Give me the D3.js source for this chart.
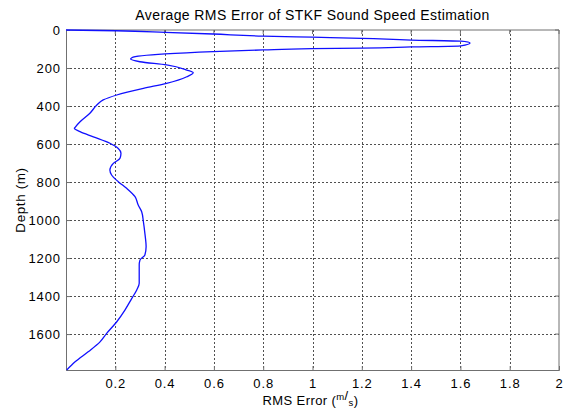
<!DOCTYPE html>
<html>
<head>
<meta charset="utf-8">
<script src="https://cdn.jsdelivr.net/npm/d3@7"></script>
<style>
  html, body { margin: 0; padding: 0; background: #fff; }
  svg { display: block; font-family: "Liberation Sans", Arial, sans-serif; }
</style>
</head>
<body>
<svg id="chart" width="575" height="414"></svg>
<script>
// Average RMS error profile vs. depth
const rmsError = [0, 0.203, 0.402, 0.596, 0.799, 0.998, 1.201, 1.400, 1.602, 1.639,
  1.602, 1.400, 1.201, 0.998, 0.799, 0.596, 0.402, 0.267, 0.262, 0.300,
  0.408, 0.490, 0.516, 0.490, 0.408, 0.314, 0.206, 0.151, 0.125, 0.097,
  0.057, 0.037, 0.034, 0.057, 0.111, 0.178, 0.212, 0.223, 0.219, 0.192,
  0.178, 0.185, 0.212, 0.246, 0.280, 0.293, 0.307, 0.314, 0.320, 0.325,
  0.320, 0.300, 0.297, 0.297, 0.287, 0.267, 0.239, 0.206, 0.165, 0.138,
  0.090, 0.037, 0.003];
const depth = [0, 4, 12, 21, 32, 38, 44, 53, 59, 68,
  83, 89, 95, 98, 105, 114, 126, 146, 153, 167,
  184, 211, 225, 246, 281, 307, 342, 368, 395, 438,
  483, 512, 517, 535, 562, 596, 623, 649, 675, 702,
  737, 763, 798, 833, 877, 921, 956, 1009, 1070, 1141,
  1184, 1211, 1237, 1333, 1368, 1412, 1474, 1535, 1596, 1641,
  1693, 1746, 1789];

const xTicks = [0.2, 0.4, 0.6, 0.8, 1, 1.2, 1.4, 1.6, 1.8, 2];
const yTicks = [0, 200, 400, 600, 800, 1000, 1200, 1400, 1600];
const xGrid = [0.2, 0.4, 0.6, 0.8, 1, 1.2, 1.4, 1.6, 1.8];
const yGrid = [200, 400, 600, 800, 1000, 1200, 1400, 1600];

const titleText = "Average RMS Error of STKF Sound Speed Estimation";
const yLabel = "Depth (m)";

const svg = d3.select("#chart");
const m = { left: 66, right: 16, top: 30, bottom: 44 };
const W = 575, H = 414;
const x = d3.scaleLinear().domain([0, 2]).range([m.left, W - m.right]);
const y = d3.scaleLinear().domain([0, 1789]).range([m.top, H - m.bottom]);

// grid
const grid = svg.append("g").attr("stroke", "#505050").attr("stroke-width", 1)
  .attr("stroke-dasharray", "1.5,2.5").attr("shape-rendering", "crispEdges");
grid.selectAll("line.v").data(xGrid).join("line").attr("class", "v")
  .attr("x1", d => Math.round(x(d)) + 0.5).attr("x2", d => Math.round(x(d)) + 0.5)
  .attr("y1", y(0)).attr("y2", y(1789));
grid.selectAll("line.h").data(yGrid).join("line").attr("class", "h")
  .attr("y1", d => Math.round(y(d)) + 0.5).attr("y2", d => Math.round(y(d)) + 0.5)
  .attr("x1", x(0)).attr("x2", x(2));

// axes
const axisColor = "#707070";
const xAxis = svg.append("g").attr("transform", `translate(0,${y(1789)})`)
  .call(d3.axisBottom(x).tickValues(xTicks).tickSize(-4).tickPadding(9).tickFormat(d3.format("")));
const yAxis = svg.append("g").attr("transform", `translate(${x(0)},0)`)
  .call(d3.axisLeft(y).tickValues(yTicks).tickSize(-4).tickPadding(5).tickFormat(d3.format("")));
[xAxis, yAxis].forEach(a => {
  a.select(".domain").attr("stroke", axisColor);
  a.selectAll(".tick line").attr("stroke", axisColor);
  a.selectAll("text").attr("fill", "#000").style("font-size", "13px")
    .style("letter-spacing", "0.9px");
});
// top and right frame
svg.append("line").attr("x1", x(0)).attr("x2", x(2)).attr("y1", y(0)).attr("y2", y(0))
  .attr("stroke", axisColor);
svg.append("line").attr("x1", x(2)).attr("x2", x(2)).attr("y1", y(0)).attr("y2", y(1789))
  .attr("stroke", axisColor);
// ticks on top and right
svg.append("g").selectAll("line").data(xTicks).join("line")
  .attr("x1", d => x(d)).attr("x2", d => x(d)).attr("y1", y(0)).attr("y2", y(0) + 4)
  .attr("stroke", axisColor);
svg.append("g").selectAll("line").data(yTicks).join("line")
  .attr("y1", d => y(d)).attr("y2", d => y(d)).attr("x1", x(2)).attr("x2", x(2) - 4)
  .attr("stroke", axisColor);

// curve
const pts = depth.map((d, i) => [rmsError[i], d]);
svg.append("path").datum(pts)
  .attr("fill", "none").attr("stroke", "#1010ff").attr("stroke-width", 1.3)
  .attr("d", d3.line().x(d => x(d[0])).y(d => y(d[1])).curve(d3.curveMonotoneY));

// title
svg.append("text").attr("x", (x(0) + x(2)) / 2).attr("y", 20)
  .attr("text-anchor", "middle").style("font-size", "14px").style("letter-spacing", "0.4px")
  .text(titleText);

// x label with unit m/s as superscript / subscript
const xl = svg.append("text").attr("x", (x(0) + x(2)) / 2 - 2).attr("y", 405)
  .attr("text-anchor", "middle").style("font-size", "13px").style("letter-spacing", "0.4px");
xl.append("tspan").text("RMS Error (");
xl.append("tspan").attr("dy", -5).style("font-size", "9.5px").text("m");
xl.append("tspan").attr("dy", 0).text("/");
xl.append("tspan").attr("dy", 6).style("font-size", "9.5px").text("s");
xl.append("tspan").attr("dy", -1).text(")");

// y label
svg.append("text").attr("transform", `translate(25,${(y(0) + y(1789)) / 2}) rotate(-90)`)
  .attr("text-anchor", "middle").style("font-size", "13.5px").style("letter-spacing", "0.6px")
  .text(yLabel);
</script>
</body>
</html>
